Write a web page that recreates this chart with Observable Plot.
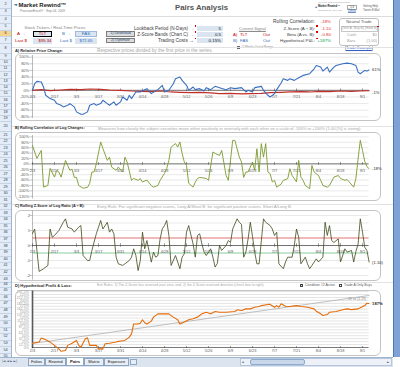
<!DOCTYPE html>
<html><head><meta charset="utf-8">
<script src="https://cdn.jsdelivr.net/npm/d3@7"></script>
<script src="https://cdn.jsdelivr.net/npm/@observablehq/plot@0.6"></script>
<style>
html,body{margin:0;padding:0;}
body{width:400px;height:367px;overflow:hidden;position:relative;background:#fff;font-family:"Liberation Sans",Arial,sans-serif;}
.a{position:absolute;white-space:nowrap;line-height:1;box-sizing:border-box;}
</style></head><body>
<script>
// ---------------- DATA ----------------
const tickDays   = [0,10,20,30,40,50,60,70,80,90,100,110,120,130,140,150];
const tickLabels = ["2/3","2/17","3/3","3/17","3/31","4/14","4/28","5/12","5/26","6/9","6/23","7/7","7/21","8/4","8/18","9/1"];

// A) relative price change (%)
const fasDays = [0,1,2,4,5,6,8,10,11,13,14,16,17,19,20,22,23,25,26,28,29,31,32,34,35,37,38,40,41,43,44,45,47,49,52,54,57,59,60,62,64,65,67,68,70,71,73,74,76,78,79,81,83,85,88,90,92,95,97,98,100,101,104,105,107,108,110,111,113,114,116,117,119,121,123,126,128,129,131,132,134,135,137,138,141,143,145,147,148,149,151,152,153];
const fasPct  = [0,20,27,25,10,-15,-25,-30,-40,-45,-50,-45,-40,-50,-65,-72,-72,-65,-45,-40,-45,-40,-30,-40,-45,-35,-45,-35,-20,-30,-15,-25,-5,-5,5,-10,2,15,-5,0,20,35,40,30,15,0,10,2,5,-2,8,2,12,8,2,8,5,8,-5,0,-5,8,12,0,-15,-20,-10,2,22,35,30,35,30,38,45,50,65,75,70,58,70,55,70,75,80,82,80,75,55,50,60,58,61];
const tltDays = [0,4,8,13,17,22,26,31,35,40,45,49,54,58,63,67,72,76,81,85,90,95,99,104,108,113,117,122,126,131,135,140,145,149,153];
const tltPct  = [0,2,-1,1,3,2,4,3,1,0,-2,-3,-4,-2,-5,-6,-7,-6,-8,-10,-9,-11,-10,-9,-7,-6,-5,-4,-5,-3,-4,-2,-3,-2,-1];
const gridA = [-80,-60,-40,-20,0,20,40,60,80,100];

// B) rolling correlation (%)
const corrDays = [0,2,4,5,7,8,10,11,12,13,15,16,17,18,19,20,21,23,25,26,27,28,29,31,32,34,35,36,38,39,41,42,43,45,46,48,49,50,52,54,55,57,58,60,61,62,63,65,66,67,68,69,70,71,73,74,75,76,79,80,82,83,85,86,88,89,91,92,94,95,96,97,98,100,101,102,103,104,105,106,107,108,109,110,111,113,114,116,117,118,120,121,122,123,124,126,127,128,130,131,132,134,135,137,139,140,142,143,144,146,147,148,149,150,151,152,153];
const corrPct  = [68,20,50,-86,-80,-17,-49,-24,-30,-49,13,-6,-24,-20,-50,-50,-80,-90,-87,-72,-30,-30,0,81,57,13,25,-12,-24,-12,-30,25,7,-61,-54,-61,-55,-67,-60,-80,-86,-80,-61,-35,-17,13,62,75,62,81,39,7,-6,-72,-86,-67,-54,-50,-54,-61,44,39,31,50,-43,-61,87,87,25,7,-50,-30,-30,7,-24,56,-30,75,25,75,-30,-36,-67,-61,-86,-75,-61,-55,-18,-43,-67,13,-49,-61,-80,-92,-6,-30,-43,-61,-80,-86,-80,-49,-43,-54,-61,-58,-67,-86,-54,19,87,50,10,-10,-18];
const gridB = [-120,-100,-80,-60,-40,-20,0,20,40,60,80,100];

// C) rolling z-score
const zDays  = [0,1,3,5,7,8,9,10,12,14,15,16,18,19,21,22,23,25,26,27,29,30,31,32,34,35,36,37,38,39,41,42,44,45,46,47,48,49,50,51,52,54,55,56,57,58,59,60,61,62,63,65,66,67,68,69,70,71,73,74,75,76,77,78,79,81,82,83,84,85,86,88,89,90,91,93,94,95,96,97,98,99,100,101,102,103,104,105,106,108,109,110,111,112,114,115,116,118,119,120,121,122,124,125,126,127,129,130,132,133,134,135,136,137,139,140,142,143,145,146,147,148,149,150,151,152,153];
const zScore = [0.8,1.1,-1.73,-1.55,-1.33,1.1,0.55,0.67,1.0,1.55,1.78,1.22,1.1,0.89,1.22,1.33,-0.67,-1.0,-1.0,-0.33,0.78,1.22,1.67,1.1,1.55,0.89,1.1,0.78,-0.78,-1.22,-1.33,-1.22,-1.0,-0.78,-0.22,-0.67,-1.67,-1.0,0.89,-0.22,0.33,-1.11,-0.44,-0.78,-0.67,0.44,1.11,1.33,1.67,0.67,-1.33,-0.67,-1.1,-1.55,-0.78,-0.55,0.89,1.33,0.1,-0.78,0.67,0.78,0.1,-0.44,-0.67,-0.22,-0.78,-1.44,-1.2,0,-0.33,0,0.33,0.2,1.1,1.78,1.55,1.4,-0.78,-0.44,0.44,1.55,0.6,-0.44,-1.22,-1.22,0.3,1.78,1.55,1.33,1.1,0.67,0.89,-1.22,-1.55,-1.1,-0.78,-0.78,0,1.1,0.55,-1.22,-0.78,-1.22,-1.55,-1.33,-0.89,-1.1,-0.78,1.55,0.67,1.33,0.33,0.2,0.44,-1.1,-0.22,-0.44,-0.33,-1.1,-0.4,0.1,1.78,0.89,-0.11,-0.33,-1.1];
const gridC  = [-2,-1.5,-1,-0.5,0,0.5,1,1.5,2];
const zLabels = [2,1,0,-1,-2];
const zBands = [0.5,-0.5];

// D) hypothetical P&L (%)
const pnlDays = [0,3,4,6,8,10,12,13,15,16,18,20,21,22,24,25,26,29,30,32,33,35,38,39,42,44,45,46,48,49,50,51,52,54,55,57,60,62,64,66,67,69,71,73,75,76,77,79,81,83,85,88,92,93,95,97,99,101,103,104,107,108,110,111,112,113,115,117,120,122,125,128,129,131,132,134,135,138,141,143,145,148,149,151,152,153];
const pnlPct  = [18,23,40,33,23,9,-6,-16,-13,9,18,30,9,1,37,41,9,9,-6,-6,16,18,23,26,30,44,58,100,100,103,118,105,100,112,129,143,143,143,129,118,100,108,118,122,129,136,143,150,143,153,150,150,153,160,157,164,164,171,174,178,183,183,171,178,171,186,175,174,178,174,171,164,154,143,136,140,150,153,160,164,161,164,169,178,188,187];
const trendDays = [0,153];
const trendPct  = [17,221];
const gridD = [12.5,25,37.5,50,62.5,75,87.5,100,112.5,125,137.5,150,162.5,175,187.5,200,212.5,225,237.5];

// ---------------- helpers ----------------
function T(x,y,txt,o={}){
  const d=document.createElement('div');d.className='a';d.textContent=txt;
  const s=o.size||4.4;
  Object.assign(d.style,{left:x+'px',top:y+'px',fontSize:s+'px',color:o.color||'#404040',
    fontWeight:o.bold?'bold':'normal',textDecoration:o.u?'underline':'none'});
  if(o.family)d.style.fontFamily=o.family;
  const ax=o.anchor==='end'?'-100%':o.anchor==='middle'?'-50%':'0';
  d.style.transform=`translate(${ax},-50%)`;
  document.body.appendChild(d);
  if(o.fit){const w=d.getBoundingClientRect().width;if(w>0)d.style.fontSize=(s*o.fit/w)+'px';}
  return d;
}
function B(x,y,w,h,css){const d=document.createElement('div');d.className='a';
  Object.assign(d.style,{left:x+'px',top:y+'px',width:w+'px',height:h+'px'},css||{});
  document.body.appendChild(d);return d;}

// ---------------- chrome ----------------
B(0,0,12,357,{background:'#e4ecf7',borderRight:'1px solid #9eb6ce'});
{
  const spec=[[2,8],[3,6.5],[4,8.5],[5,6.6],[6,6.6],[7,6.6],[8,10]];
  for(let r=9;r<=19;r++)spec.push([r,6.23]);
  spec.push([20,10]);
  for(let r=21;r<=31;r++)spec.push([r,6.5]);
  spec.push([32,6.5]);
  for(let r=33;r<=43;r++)spec.push([r,6.6]);
  spec.push([44,5]);
  for(let r=45;r<=56;r++)spec.push([r,6.6]);
  let y=1;
  for(const [r,h] of spec){
    if(y>357)break;
    B(0,y,11,h,{borderBottom:'1px solid #c5d3e3',background:r===6?'#f7d48c':'transparent'});
    T(5.5,y+h/2,String(r),{anchor:'middle',size:3.8,color:'#30435a'});
    y+=h;
  }
}
// right blue frame
B(393,0,7,357,{background:'#7ea2d6',borderLeft:'1px solid #4b78b8'});

// header
T(13.5,5.3,'◄',{size:4.5,color:'#2e5fa8',family:'DejaVu Sans'});
T(18.5,5.5,'Market Rewind™',{size:6.2,bold:true,color:'#1a1a1a',fit:48});
T(20,12,'PrecisionExcel® · Sep 04, 2009',{size:3.4,color:'#808080',fit:45});
T(175,7.5,'Pairs Analysis',{size:7.4,bold:true,color:'#555',fit:53});
B(12,16,381,1,{background:'#dcdcdc'});
// top-right mini logo
T(318,2.4,'Go to the Market Rewind website',{size:2.2,color:'#999'});
T(314.5,7.3,'◄',{size:3,color:'#2e5fa8',family:'DejaVu Sans'});
T(318,7.3,'Market Rewind™',{size:3.4,bold:true,color:'#222',fit:22});
T(318,11,'PrecisionExcel.com · Sep 04, 2009',{size:2.2,color:'#888',fit:24});
B(347,4.5,10,5,{border:'0.5px solid #aaa'});
T(352,7,'1/4',{size:2.8,anchor:'middle',color:'#555'});
T(363,7,'Getting Help',{size:2.8,color:'#555',fit:15});
T(348,11.3,'Videos',{size:2.6,color:'#2e5fa8',u:true});
T(363,11.3,'Tweets',{size:2.6,color:'#555'});
T(372,11.3,'E-Mail',{size:2.6,color:'#555'});

// tickers
T(55,28,'Stock Tickers / Real-Time Prices',{anchor:'middle',size:4.1,color:'#7f7f7f',fit:61});
T(17,34,'A →',{size:4.4,color:'#c00000'});
B(33,31,19,6,{background:'#dbe5f1',border:'1px solid #000'});
T(42.5,34,'TLT',{anchor:'middle',size:4.4,color:'#c00000'});
T(62,34,'B →',{size:4.4,color:'#2f6db5'});
B(75,31,22,6,{background:'#dbe5f1',border:'0.5px solid #9db9dc'});
T(86,34,'FAS',{anchor:'middle',size:4.4,color:'#2f6db5'});
T(15,40.5,'Last $',{size:4.4,color:'#c00000'});
B(33,37.5,19,6,{background:'#dbe5f1'});
T(45,40.5,'$95.34',{anchor:'middle',size:4.2,color:'#c00000'});
T(60,40.5,'Last $',{size:4.4,color:'#2f6db5'});
B(75,37.5,22,6,{background:'#dbe5f1'});
T(86,40.5,'$72.65',{anchor:'middle',size:4.2,color:'#2f6db5'});
// buttons
B(106,31,29,5.7,{background:'#dcdcdc',border:'0.6px solid #7f7f7f'});
T(120.5,33.9,'1) Download',{anchor:'middle',size:3.7,color:'#1f497d'});
B(106,37.6,29,5.7,{background:'#dcdcdc',border:'0.6px solid #7f7f7f'});
T(120.5,40.5,'2) Optimize',{anchor:'middle',size:3.7,color:'#1f497d'});
// parameters
T(194,28.5,'Lookback Period (N-Days) →',{anchor:'end',size:4.4,fit:60});
T(194,34.6,'Z-Score Bands (Chart C) →',{anchor:'end',size:4.4,fit:57});
T(194,40.9,'Trading Costs →',{anchor:'end',size:4.4,fit:36});
for(const [yy,v] of [[25.5,'5'],[31.8,'0.5'],[38,'0.15%']]){
  B(197,yy,26,6,{background:'#dbe5f1',borderBottom:'0.5px solid #fff'});
  T(221,yy+3,v,{anchor:'end',size:4.4,color:'#1a1a1a'});
  B(194.5,yy-0.5,1.8,1.8,{background:'#e00000'});
}
// current signal
T(252.5,28.5,'Current Signal',{anchor:'middle',size:4.2,color:'#7f7f7f',u:true});
T(233,34.6,'A)',{size:4.3,color:'#c00000'});T(240,34.6,'TLT',{size:4.3,color:'#c00000'});T(263,34.6,'Out',{size:4.3,color:'#c00000'});
T(233,40.9,'B)',{size:4.3,color:'#2f6db5'});T(240,40.9,'FAS',{size:4.3,color:'#2f6db5'});T(263,40.9,'Out',{size:4.3,color:'#2f6db5'});
// stats
T(315,21.7,'Rolling Correlation:',{anchor:'end',size:4.4,fit:42});
T(315,28.5,'Z-Score (A ÷ B):',{anchor:'end',size:4.4});
T(315,34.6,'Beta (A vs. B):',{anchor:'end',size:4.4});
T(315,40.9,'Hypothetical P&L:',{anchor:'end',size:4.4});
for(const yy of [25.3,31.4,37.7])B(316,yy,1.6,1.6,{background:'#e00000'});
T(331,21.7,'-18%',{anchor:'end',size:4.4,color:'#e03030'});
T(331,28.5,'-1.10',{anchor:'end',size:4.4,color:'#e03030'});
T(331,34.6,'-0.80',{anchor:'end',size:4.4,color:'#e03030'});
T(331,40.9,'+187%',{anchor:'end',size:4.4,color:'#00a050'});
// neutral trade box
B(339,18,40,28,{border:'0.7px solid #bfbfbf',borderRadius:'3px'});
T(359,21.8,'Neutral Trade',{anchor:'middle',size:4.2,color:'#595959'});
B(341,25.5,37,6,{border:'0.5px solid #c8c8c8'});
T(359.5,28.6,'[Sell A, Buy B] [Hold B]',{anchor:'middle',size:3.4,color:'#a0a0a0',fit:35});
B(377,25.5,1.6,1.6,{background:'#e00000'});
T(347,34.6,'Cash',{size:4,color:'#a0a0a0'});T(377,34.6,'$0',{anchor:'end',size:4,color:'#a0a0a0'});
T(347,40.9,'Bars',{size:4,color:'#a0a0a0'});T(377,40.9,'(1.00)',{anchor:'end',size:4,color:'#a0a0a0'});
// checkbox + link
B(236.5,46.3,3,3,{border:'0.6px solid #666',background:'#fff'});
T(242,48,'2-Weeks Out of Range',{size:3.8,color:'#7f7f7f',fit:31});
B(345,45,28,6,{border:'0.6px solid #bfbfbf'});
T(359,48,'Trade Example',{anchor:'middle',size:3.9,color:'#2f5fbf',u:true});

// section separators and titles
for(const yy of [46.5,125.5,203.5,281.5])B(12,yy,381,0.6,{background:'#e2e2e2'});
T(15,50.5,'A) Relative Price Change:',{size:4,bold:true,color:'#262626',fit:48});
T(97,50.5,'Respective prices divided by the first price in the series.',{size:3.8,color:'#a6a6a6',fit:116});
T(15,128.8,'B) Rolling Correlation of Log Changes:',{size:4,bold:true,color:'#262626',fit:70});
T(98,128.8,'Measures how closely the subject securities move either positively or inversely with each other on a scale of -100% to +100% (1.00 [%] is strong).',{size:3.8,color:'#a6a6a6',fit:264});
T(15,207,'C) Rolling Z-Score of Log Ratio (A ÷ B):',{size:4,bold:true,color:'#262626',fit:70});
T(97,207,'Entry Rule: For significant negative scores, Long A/Short B; for significant positive scores, Short A/Long B.',{size:3.8,color:'#a6a6a6',fit:195});
T(15,286,'D) Hypothetical Profit & Loss:',{size:4,bold:true,color:'#262626',fit:57});
T(97,286,'Exit Rules: 1) The Z-Score has reversed past zero, and, 2) the Z-Score reversed direction (check box to right).',{size:3.8,color:'#a6a6a6',fit:168});
B(299.5,284.3,3.2,3.2,{border:'0.6px solid #444',background:'#fff'});
T(300.1,285.8,'✓',{size:3.4,color:'#222',family:'DejaVu Sans'});
T(305,286,'Condition #2 Active',{size:3.8,color:'#595959',fit:30});
B(338.5,284.3,3.2,3.2,{border:'0.6px solid #444',background:'#fff'});
T(344,286,'Trade A Only Buys',{size:3.8,color:'#595959',fit:28});

// chart frames
for(const [yy,h] of [[53,68],[131.5,69],[210,71],[290,66]])
  B(15,yy,366,h,{border:'0.8px solid #c4c4c4',borderRadius:'6px'});

// bottom sheet tabs
B(0,357,393,10,{background:'#dbe4ef',borderTop:'1px solid #9eb6ce'});
T(2,362,'|◄  ◄  ►  ►|',{size:3.2,color:'#3b5575',family:'DejaVu Sans'});
const tabs=[['Folios',28,17],['Rewind',45,21],['Pairs',66,18],['Matrix',84,20],['Exposure',104,25]];
for(const [name,x,w] of tabs){
  const act=name==='Pairs';
  B(x,357.5,w,8.5,{background:act?'#fff':'#e8eef6',border:'0.6px solid #8ea6c2',borderTop:act?'none':'0.6px solid #8ea6c2'});
  T(x+w/2,361.8,name,{anchor:'middle',size:4.2,color:'#222',bold:act});
}
B(130,358.5,7,6,{background:'#e8eef6',border:'0.6px solid #8ea6c2'});
B(240,358,152,8,{background:'#eef2f8',border:'0.6px solid #b5c6da'});
B(250,359,55,6,{background:'#c9d7ea',border:'0.6px solid #8eaacc',borderRadius:'2px'});
T(241.5,362,'◄',{size:3,color:'#3b5575',family:'DejaVu Sans'});
T(387,362,'►',{size:3,color:'#3b5575',family:'DejaVu Sans'});

// ---------------- charts ----------------
const W=380, ML=20, MR=23.4;
const ST={background:'transparent',fontFamily:"'Liberation Sans',Arial,sans-serif",overflow:'visible'};
const xs={domain:[0,153],axis:null};
function place(svg,top){const w=document.createElement('div');w.className='a';w.style.left='12px';w.style.top=top+'px';w.appendChild(svg);document.body.appendChild(w);}
const rows=(ds,vs)=>ds.map((d,i)=>({d,v:vs[i]}));
const AX='#3f3f3f', GR='#dadada', LB='#595959';

// A
const fas=rows(fasDays,fasPct), tlt=rows(tltDays,tltPct);
place(Plot.plot({width:W,height:68,marginLeft:ML,marginRight:MR,marginTop:2,marginBottom:3,style:ST,
  x:xs,y:{domain:[-85,105],axis:null},
  marks:[
    Plot.ruleY(gridA,{stroke:GR,strokeWidth:0.6}),
    Plot.ruleX([0],{stroke:'#8c8c8c',strokeWidth:0.6}),
    Plot.ruleY(gridA,{x1:-1.2,x2:0,stroke:'#8c8c8c',strokeWidth:0.5}),
    Plot.text(gridA,{x:0,y:d=>d,text:d=>d+'%',textAnchor:'end',dx:-3.5,fontSize:3.9,fill:LB}),
    Plot.ruleY([0],{stroke:AX,strokeWidth:0.7}),
    Plot.ruleX(tickDays,{y1:-4,y2:4,stroke:AX,strokeWidth:0.5}),
    Plot.text(tickDays,{x:d=>d,y:0,text:(d,i)=>tickLabels[i],dy:6,fontSize:3.9,fill:LB}),
    Plot.line(tlt,{x:'d',y:'v',stroke:'#c0302a',strokeWidth:1.2}),
    Plot.line(fas,{x:'d',y:'v',stroke:'#3a70c0',strokeWidth:1.1}),
    Plot.text([fas.at(-1)],{x:'d',y:'v',text:d=>d.v+'%',dx:3,textAnchor:'start',fontSize:4.1,fill:'#262626'}),
    Plot.text([tlt.at(-1)],{x:'d',y:'v',text:d=>d.v+'%',dx:3,dy:2.5,textAnchor:'start',fontSize:4.1,fill:'#262626'})
  ]}),53);

// B
const corr=rows(corrDays,corrPct);
place(Plot.plot({width:W,height:69,marginLeft:ML,marginRight:MR,marginTop:4,marginBottom:1.5,style:ST,
  x:xs,y:{domain:[-130,105],axis:null},
  marks:[
    Plot.ruleY(gridB,{stroke:GR,strokeWidth:0.6}),
    Plot.ruleX([0],{stroke:'#8c8c8c',strokeWidth:0.6}),
    Plot.ruleY(gridB,{x1:-1.2,x2:0,stroke:'#8c8c8c',strokeWidth:0.5}),
    Plot.text(gridB,{x:0,y:d=>d,text:d=>d+'%',textAnchor:'end',dx:-3.5,fontSize:3.9,fill:LB}),
    Plot.ruleY([0],{stroke:AX,strokeWidth:0.7}),
    Plot.ruleX(tickDays,{y1:-5,y2:5,stroke:AX,strokeWidth:0.5}),
    Plot.text(tickDays,{x:d=>d,y:0,text:(d,i)=>tickLabels[i],dy:6.5,fontSize:3.9,fill:LB}),
    Plot.line(corr,{x:'d',y:'v',stroke:'#7a9a2e',strokeWidth:0.9}),
    Plot.text([corr.at(-1)],{x:'d',y:'v',text:d=>d.v+'%',dx:3,textAnchor:'start',fontSize:4.1,fill:'#262626'})
  ]}),131);

// C
const zs=rows(zDays,zScore);
place(Plot.plot({width:W,height:72,marginLeft:ML,marginRight:MR,marginTop:1.5,marginBottom:1.5,style:ST,
  x:xs,y:{domain:[-2.3,2.3],axis:null},
  marks:[
    Plot.ruleY(gridC,{stroke:GR,strokeWidth:0.6}),
    Plot.ruleY([zBands[0]],{stroke:'#e8736f',strokeWidth:0.9}),
    Plot.ruleY([zBands[1]],{stroke:'#8ad3a5',strokeWidth:0.9}),
    Plot.ruleX([0],{stroke:'#8c8c8c',strokeWidth:0.6}),
    Plot.ruleY(zLabels,{x1:-1.2,x2:0,stroke:'#8c8c8c',strokeWidth:0.5}),
    Plot.text(zLabels,{x:0,y:d=>d,text:d=>String(d),textAnchor:'end',dx:-2.5,fontSize:3.9,fill:LB}),
    Plot.ruleY([0],{stroke:AX,strokeWidth:0.7}),
    Plot.ruleX(tickDays,{y1:-0.12,y2:0.12,stroke:AX,strokeWidth:0.5}),
    Plot.text(tickDays,{x:d=>d,y:0,text:(d,i)=>tickLabels[i],dy:6.5,fontSize:3.9,fill:LB}),
    Plot.line(zs,{x:'d',y:'v',stroke:'#3e4a1a',strokeWidth:0.8}),
    Plot.text([zs.at(-1)],{x:'d',y:'v',text:d=>d.v<0?'('+Math.abs(d.v).toFixed(2)+')':d.v.toFixed(2),dx:3,dy:1,textAnchor:'start',fontSize:4.1,fill:'#262626'})
  ]}),209);

// D
const pnl=rows(pnlDays,pnlPct), trend=rows(trendDays,trendPct);
place(Plot.plot({width:W,height:65,marginLeft:ML,marginRight:MR,marginTop:1.5,marginBottom:2.3,style:ST,
  x:xs,y:{domain:[-20,240],axis:null},
  marks:[
    Plot.ruleY(gridD,{stroke:'#d0d0d0',strokeWidth:0.6}),
    Plot.text(gridD.concat([0]),{x:0,y:d=>d,text:d=>d+'%',textAnchor:'end',dx:-3.5,fontSize:3.6,fill:'#9a9a9a'}),
    Plot.ruleX([0],{y1:-5,y2:240,stroke:'#595959',strokeWidth:1.6}),
    Plot.ruleY([0],{stroke:AX,strokeWidth:0.7}),
    Plot.ruleX(tickDays,{y1:-4,y2:4,stroke:AX,strokeWidth:0.5}),
    Plot.text(tickDays,{x:d=>d,y:0,text:(d,i)=>tickLabels[i],dy:3.6,fontSize:3.9,fill:LB}),
    Plot.line(trend,{x:'d',y:'v',stroke:'#b0b0b0',strokeWidth:0.8}),
    Plot.line(pnl,{x:'d',y:'v',stroke:'#e46c0a',strokeWidth:1.1}),
    Plot.text([trend.at(-1)],{x:'d',y:'v',text:()=>'29 vs (1.29)',dx:-3,dy:3.5,textAnchor:'end',fontSize:3.4,fill:'#7f7f7f'}),
    Plot.text([pnl.at(-1)],{x:'d',y:'v',text:d=>d.v+'%',dx:3,textAnchor:'start',fontSize:4.1,fontWeight:'bold',fill:'#262626'})
  ]}),289);
</script>
</body></html>
